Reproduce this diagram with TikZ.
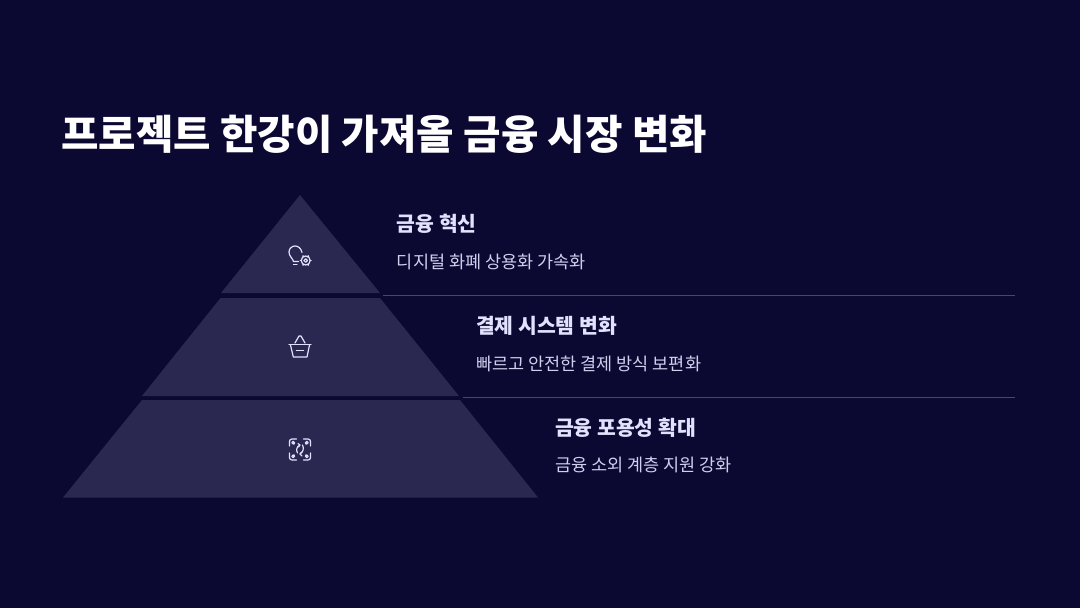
\documentclass[tikz,border=0pt]{standalone}
\usepackage{fontspec}
\setmainfont{Noto Sans CJK KR}
\definecolor{bgcolor}{HTML}{0B0932}
\definecolor{tiercolor}{HTML}{2A2850}
\definecolor{linecolor}{HTML}{48466A}
\definecolor{headcolor}{HTML}{E2E2FF}
\definecolor{bodycolor}{HTML}{CFCFEE}
\definecolor{iconcolor}{HTML}{E2E2FF}
\tikzset{
  titletext/.style={anchor=west,inner sep=0pt,text=white,font=\fontsize{40.7}{50}\selectfont\bfseries},
  headtext/.style={anchor=west,inner sep=0pt,text=headcolor,font=\fontsize{20.4}{24}\selectfont\bfseries},
  bodytext/.style={anchor=west,inner sep=0pt,text=bodycolor,font=\fontsize{17.5}{22}\selectfont},
  tier/.style={fill=tiercolor},
  rule/.style={linecolor,line width=1pt},
  icon/.style={iconcolor,line width=1.2pt,line cap=round,line join=round}
}
\begin{document}
\begin{tikzpicture}
[x=1pt,y=-1pt]
\fill[bgcolor] (0,0) rectangle (1080,608);
\useasboundingbox (0,0) rectangle (1080,608);
\node[titletext] (title) at (61,134.2) {프로젝트 한강이 가져올 금융 시장 변화};
% pyramid
\fill[tier] (300,195) -- (380,293) -- (221,293) -- cycle;
\fill[tier] (220.5,298) -- (380,298) -- (459,396) -- (142,396) -- cycle;
\fill[tier] (142,400) -- (460,400) -- (538,497.5) -- (63,497.5) -- cycle;
% rules
\coordinate (rule1a) at (382.5,295.5);
\coordinate (rule1b) at (1015,295.5);
\coordinate (rule2a) at (462.5,397.5);
\coordinate (rule2b) at (1015,397.5);
\draw[rule] (rule1a) -- (rule1b);
\draw[rule] (rule2a) -- (rule2b);
% texts
\node[headtext] (head1) at (396.7,224.3) {금융 혁신};
\node[bodytext] (body1) at (396.7,261.7) {디지털 화폐 상용화 가속화};
\node[headtext] (head2) at (476,326.3) {결제 시스템 변화};
\node[bodytext] (body2) at (476,363.7) {빠르고 안전한 결제 방식 보편화};
\node[headtext] (head3) at (555,428.3) {금융 포용성 확대};
\node[bodytext] (body3) at (555,465.2) {금융 소외 계층 지원 강화};
% bulb and gear
\draw[icon] (298.5,261.5) -- (293.5,261.5) .. controls (293,258.5) and (289,256.5) .. (289,252) .. controls (289,248.5) and (292,246) .. (295,246) .. controls (298,246) and (301,248) .. (302,252.5);
\draw[icon] (293.5,264.5) -- (297,264.5);
\draw[icon] (305.7,260.5) circle (1.8);
\draw[icon] (305.7,260.5) circle (4.5);
\foreach \a in {0,60,...,300}
  \draw[icon,line width=1.6pt] (305.7,260.5) ++(\a:4.6) -- ++(\a:0.7);
% basket
\draw[icon] (289,344.5) -- (311,344.5);
\draw[icon] (290.5,345) -- (293.3,357) -- (307,357) -- (309.5,345);
\draw[icon] (295,343) -- (299,336) -- (301,336) -- (305,343);
\draw[icon] (296.5,350.5) -- (303.5,350.5);
% focus arrows
\foreach \sx/\sy in {1/1,-1/1,1/-1,-1/-1} {
  \begin{scope}[shift={(300,449.5)},xscale=\sx,yscale=\sy]
    \draw[icon] (3.5,-10.5) -- (8,-10.5) .. controls (9.5,-10.5) and (10.5,-9.5) .. (10.5,-8) -- (10.5,-3.5);
    \draw[icon] (7,-7) -- (5.5,-5.5);
    \draw[icon,line width=1pt] (6.8,-6.8) circle (1.5);
  \end{scope}
}
\draw[icon] (297.5,453) .. controls (296,450) and (296.5,446.5) .. (300,445);
\draw[icon] (302.5,445) .. controls (304,448) and (303.5,452) .. (300,454);
\draw[icon] (298,443.5) -- (300,445) -- (298.5,447);
\draw[icon] (302,456) -- (300,454) -- (301.5,452);
\end{tikzpicture}
\end{document}
